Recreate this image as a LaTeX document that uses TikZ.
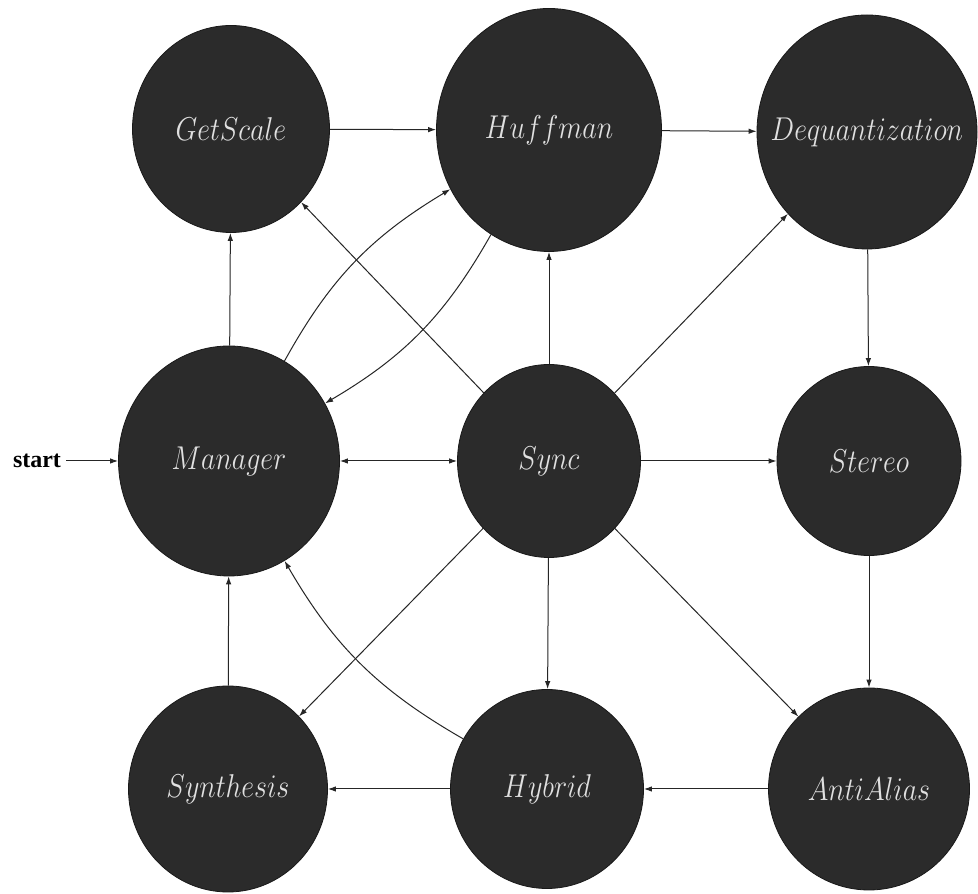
\RequirePackage{fix-cm}
\documentclass[tikz,border=0pt]{standalone}
\usepackage{fontspec}
\newfontfamily\timesfont{Liberation Serif}
\usetikzlibrary{shapes.geometric,arrows.meta}

% state names in math italic, slightly condensed; zero width so the
% ellipse keeps its given size
\newcommand{\statelabel}[1]{\makebox[0pt]{\scalebox{0.85}[1]{$#1$}}}

\tikzset{
  state/.style={ellipse, draw=black!90, line width=0.8pt, fill=black!83,
    text=black!12, inner sep=0pt,
    font=\fontsize{33}{38}\selectfont},
  flow/.style={draw=black!85, line width=1pt,
    -{Latex[length=8pt,width=5.5pt]}},
  twoway/.style={draw=black!85, line width=1pt,
    {Latex[length=8pt,width=5.5pt]}-{Latex[length=8pt,width=5.5pt]}},
}

\begin{document}
\begin{tikzpicture}[x=1pt,y=1pt]
  \useasboundingbox (0,0) rectangle (978,894);
  \fill[white] (0,0) rectangle (978,894);

  % top row
  \node[state, minimum width=197pt, minimum height=207pt] (getscale) at (231,765) {\statelabel{GetScale}};
  \node[state, minimum width=225pt, minimum height=243pt] (huffman)  at (549,764) {\statelabel{Huffman}};
  \node[state, minimum width=220pt, minimum height=234pt] (deq)      at (867,762) {\statelabel{Dequantization}};

  % middle row
  \node[state, minimum width=221pt, minimum height=230pt] (manager)  at (229,433) {\statelabel{Manager}};
  \node[state, minimum width=183pt, minimum height=193pt] (sync)     at (549,433) {\statelabel{Sync}};
  \node[state, minimum width=184pt, minimum height=189pt] (stereo)   at (869,433) {\statelabel{Stereo}};

  % bottom row
  \node[state, minimum width=199pt, minimum height=206pt] (synthesis) at (228,105) {\statelabel{Synthesis}};
  \node[state, minimum width=193pt, minimum height=199pt] (hybrid)    at (547,105) {\statelabel{Hybrid}};
  \node[state, minimum width=201pt, minimum height=202pt] (antialias) at (869,105) {\statelabel{AntiAlias}};

  % entry point
  \node[font=\timesfont\bfseries\fontsize{24}{28}\selectfont, inner sep=5pt] (start) at (37,433) {start};
  \draw[flow] (start) -- (manager);

  % transitions
  \draw[flow] (getscale) -- (huffman);
  \draw[flow] (huffman) -- (deq);
  \draw[flow] (manager) -- (getscale);
  \draw[flow] (manager) to[bend left=15] (huffman);
  \draw[flow] (huffman) to[bend left=15] (manager);
  \draw[flow] (sync) -- (getscale);
  \draw[flow] (sync) -- (huffman);
  \draw[flow] (sync) -- (deq);
  \draw[twoway] (manager) -- (sync);
  \draw[flow] (sync) -- (stereo);
  \draw[flow] (deq) -- (stereo);
  \draw[flow] (stereo) -- (antialias);
  \draw[flow] (sync) -- (synthesis);
  \draw[flow] (sync) -- (hybrid);
  \draw[flow] (sync) -- (antialias);
  \draw[flow] (antialias) -- (hybrid);
  \draw[flow] (hybrid) -- (synthesis);
  \draw[flow] (synthesis) -- (manager);
  \draw[flow] (hybrid) to[bend left=15] (manager);
\end{tikzpicture}
\end{document}
